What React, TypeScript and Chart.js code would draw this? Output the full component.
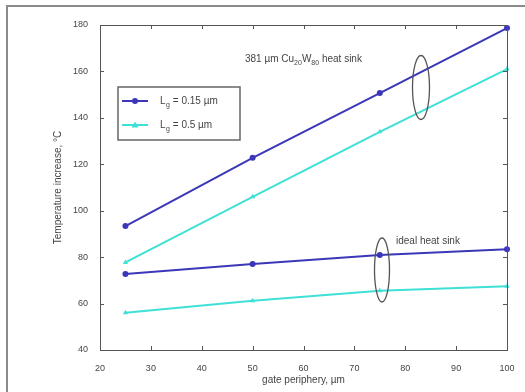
import React, { useEffect, useRef } from "react";
import { Chart, registerables } from "chart.js";

Chart.register(...registerables);

const gatePeriphery = [25, 50, 75, 100];
const cuw015 = [93.4, 122.8, 150.7, 178.7];
const cuw05 = [77.7, 106, 134, 161];
const ideal015 = [72.7, 77, 80.9, 83.4];
const ideal05 = [56, 61.2, 65.5, 67.5];
const xTicks = [20, 30, 40, 50, 60, 70, 80, 90, 100];
const yTicks = [40, 60, 80, 100, 120, 140, 160, 180];

const BLUE = "#3b37b8";
const CYAN = "#3fe0d6";
const TEXT = "#444";
const FONT = "Liberation Sans";

const pts = (ys: number[]) => gatePeriphery.map((x, i) => ({ x, y: ys[i] }));

const decor = {
  id: "decor",
  afterDraw(chart: any) {
    const ctx = chart.ctx as CanvasRenderingContext2D;
    const xs = chart.scales.x;
    const ys = chart.scales.y;
    const { left, right, top, bottom } = chart.chartArea;
    ctx.save();
    // outer figure border
    ctx.strokeStyle = "#8a8a8a";
    ctx.lineWidth = 2;
    ctx.strokeRect(7, 6, 530, 400);
    // axes box
    ctx.strokeStyle = "#555";
    ctx.lineWidth = 1;
    ctx.strokeRect(left + 0.5, top + 0.5, right - left, bottom - top);
    // inward ticks
    ctx.beginPath();
    xTicks.forEach((v) => {
      const px = Math.round(xs.getPixelForValue(v)) + 0.5;
      ctx.moveTo(px, bottom);
      ctx.lineTo(px, bottom - 4);
      ctx.moveTo(px, top);
      ctx.lineTo(px, top + 4);
    });
    yTicks.forEach((v) => {
      const py = Math.round(ys.getPixelForValue(v)) + 0.5;
      ctx.moveTo(left, py);
      ctx.lineTo(left + 4, py);
      ctx.moveTo(right, py);
      ctx.lineTo(right - 4, py);
    });
    ctx.stroke();
    // axis titles
    ctx.fillStyle = TEXT;
    ctx.font = `10px ${FONT}`;
    ctx.textAlign = "center";
    ctx.textBaseline = "middle";
    ctx.fillText("gate periphery, µm", (left + right) / 2, 380);
    ctx.save();
    ctx.translate(58, (top + bottom) / 2);
    ctx.rotate(-Math.PI / 2);
    ctx.fillText("Temperature increase, °C", 0, 0);
    ctx.restore();

    // legend
    const lx = 118, ly = 87, lw = 122, lh = 53;
    ctx.strokeStyle = "#666";
    ctx.lineWidth = 1.5;
    ctx.strokeRect(lx, ly, lw, lh);
    const entries = [
      { color: BLUE, y: 101, label: " = 0.15 µm", shape: "circle" },
      { color: CYAN, y: 125, label: " = 0.5 µm", shape: "tri" },
    ];
    entries.forEach((e) => {
      ctx.strokeStyle = e.color;
      ctx.lineWidth = 2;
      ctx.beginPath();
      ctx.moveTo(lx + 4, e.y);
      ctx.lineTo(lx + 30, e.y);
      ctx.stroke();
      ctx.fillStyle = e.color;
      ctx.beginPath();
      if (e.shape === "circle") ctx.arc(lx + 17, e.y, 3, 0, Math.PI * 2);
      else {
        ctx.moveTo(lx + 17, e.y - 3.5);
        ctx.lineTo(lx + 20.5, e.y + 2.5);
        ctx.lineTo(lx + 13.5, e.y + 2.5);
        ctx.closePath();
      }
      ctx.fill();
      ctx.fillStyle = TEXT;
      ctx.textAlign = "left";
      ctx.textBaseline = "alphabetic";
      ctx.font = `10px ${FONT}`;
      ctx.fillText("L", lx + 42, e.y + 3);
      ctx.font = `7px ${FONT}`;
      ctx.fillText("g", lx + 48, e.y + 6);
      ctx.font = `10px ${FONT}`;
      ctx.fillText(e.label, lx + 52, e.y + 3);
    });

    // annotations
    ctx.fillStyle = TEXT;
    ctx.textAlign = "left";
    ctx.textBaseline = "alphabetic";
    let tx = 245;
    const ty = 62;
    const seg = (t: string, size: number, dy: number) => {
      ctx.font = `${size}px ${FONT}`;
      ctx.fillText(t, tx, ty + dy);
      tx += ctx.measureText(t).width;
    };
    seg("381 µm Cu", 10, 0);
    seg("20", 7, 3);
    seg("W", 10, 0);
    seg("80", 7, 3);
    seg(" heat sink", 10, 0);
    ctx.font = `10px ${FONT}`;
    ctx.fillText("ideal heat sink", 396, 244);

    // ellipses
    ctx.strokeStyle = "#555";
    ctx.lineWidth = 1.3;
    ctx.beginPath();
    ctx.ellipse(421, 87.5, 8.5, 32, 0, 0, Math.PI * 2);
    ctx.stroke();
    ctx.beginPath();
    ctx.ellipse(382, 270, 7.5, 32, 0, 0, Math.PI * 2);
    ctx.stroke();
    ctx.restore();
  },
};

export default function App() {
  const ref = useRef<HTMLCanvasElement | null>(null);
  useEffect(() => {
    if (!ref.current) return;
    const mk = (label: string, ys: number[], color: string, style: string) => ({
      label,
      data: pts(ys),
      borderColor: color,
      backgroundColor: color,
      borderWidth: 2,
      pointStyle: style,
      pointRadius: 3,
      pointBorderWidth: 0,
      showLine: true,
      tension: 0,
      clip: false,
    });
    const chart = new Chart(ref.current, {
      type: "scatter",
      data: {
        datasets: [
          mk("381 Lg 0.15", cuw015, BLUE, "circle"),
          mk("381 Lg 0.5", cuw05, CYAN, "triangle"),
          mk("ideal Lg 0.15", ideal015, BLUE, "circle"),
          mk("ideal Lg 0.5", ideal05, CYAN, "triangle"),
        ],
      },
      options: {
        animation: false,
        responsive: false,
        layout: { padding: { left: 0, right: 18, top: 25, bottom: 0 } },
        plugins: { legend: { display: false }, tooltip: { enabled: false } },
        scales: {
          x: {
            type: "linear",
            min: 20,
            max: 100,
            afterBuildTicks: (s: any) => {
              s.ticks = xTicks.map((v) => ({ value: v }));
            },
            afterFit: (s: any) => {
              s.height = 42;
            },
            grid: { display: false },
            border: { display: false },
            ticks: { color: TEXT, font: { family: FONT, size: 9 }, padding: 5 },
          },
          y: {
            type: "linear",
            min: 40,
            max: 180,
            afterBuildTicks: (s: any) => {
              s.ticks = yTicks.map((v) => ({ value: v }));
            },
            afterFit: (s: any) => {
              s.width = 100;
            },
            grid: { display: false },
            border: { display: false },
            ticks: { color: TEXT, font: { family: FONT, size: 9 }, padding: 4 },
          },
        },
      },
      plugins: [decor],
    });
    return () => chart.destroy();
  }, []);
  return (
    <div style={{ position: "fixed", left: 0, top: 0, width: 525, height: 392, background: "#fff" }}>
      <canvas ref={ref} width={525} height={392} style={{ display: "block" }} />
    </div>
  );
}
